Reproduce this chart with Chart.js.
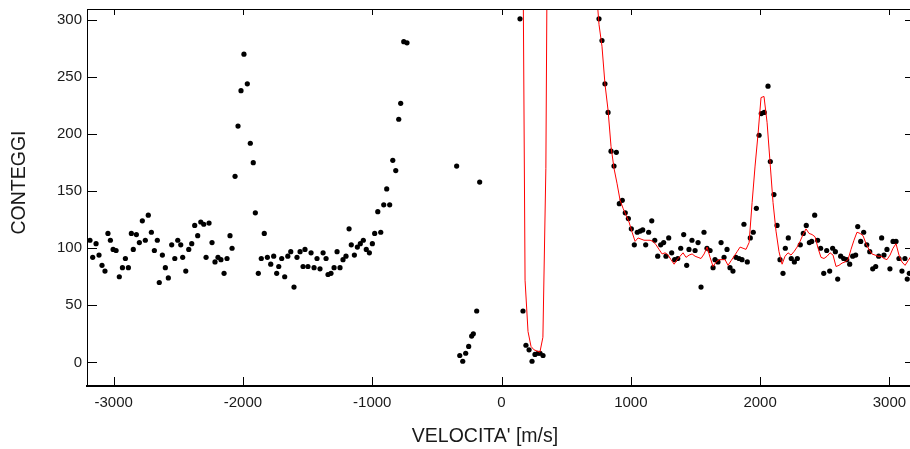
<!DOCTYPE html>
<html>
<head>
<meta charset="utf-8">
<title>Conteggi</title>
<script src="https://cdn.jsdelivr.net/npm/chart.js@4.4.0/dist/chart.umd.min.js"></script>
<style>
  html, body { margin: 0; padding: 0; background: #fff; overflow: hidden; }
  canvas { display: block; }
</style>
</head>
<body>
<canvas id="myChart" width="916" height="449"></canvas>
<script>
// measured points (black dots)
let velocita = [
  -3183, -3162, -3136, -3113, -3090, -3067, -3044, -3025, -3004, -2981,
  -2956, -2932, -2909, -2886, -2863, -2848, -2824, -2801, -2778, -2755,
  -2732, -2708, -2685, -2662, -2647, -2623, -2600, -2577, -2551, -2527,
  -2504, -2481, -2466, -2442, -2419, -2396, -2373, -2350, -2326, -2303,
  -2285, -2262, -2239, -2216, -2193, -2170, -2146, -2123, -2100, -2084,
  -2061, -2038, -2015, -1992, -1966, -1943, -1920, -1904, -1881, -1858,
  -1835, -1811, -1785, -1762, -1739, -1723, -1700, -1677, -1653, -1630,
  -1605, -1582, -1558, -1535, -1520, -1497, -1473, -1450, -1427, -1404,
  -1380, -1357, -1342, -1319, -1295, -1272, -1249, -1226, -1203, -1179,
  -1162, -1138, -1115, -1092, -1069, -1046, -1022, -999, -981, -957,
  -934, -911, -888, -865, -841, -818, -795, -780, -756, -731,
  -347, -323, -300, -277, -254, -231, -218, -192, -169,
  143, 166, 189, 213, 236, 259, 282, 298, 321,
  754, 777, 800, 824, 847, 870, 888, 911, 934, 957,
  981, 1004, 1027, 1050, 1073, 1092, 1115, 1138, 1162, 1185,
  1208, 1231, 1254, 1272, 1293, 1316, 1339, 1363, 1386, 1409,
  1432, 1450, 1473, 1497, 1520, 1543, 1566, 1589, 1613, 1636,
  1651, 1674, 1698, 1721, 1744, 1767, 1790, 1813, 1837, 1860,
  1875, 1901, 1924, 1947, 1971, 1992, 2009, 2032, 2061, 2079,
  2107, 2131, 2154, 2177, 2195, 2218, 2241, 2265, 2288, 2311,
  2334, 2357, 2381, 2399, 2422, 2445, 2468, 2492, 2515, 2538,
  2561, 2582, 2600, 2623, 2646, 2670, 2693, 2716, 2739, 2755,
  2778, 2801, 2825, 2848, 2871, 2894, 2917, 2940, 2958, 2981,
  3004, 3028, 3051, 3074, 3097, 3120, 3138, 3154
];
let conteggi = [
  107, 92, 104, 94, 85, 80, 113, 107, 99, 98,
  75, 83, 91, 83, 113, 99, 112, 105, 124, 107,
  129, 114, 98, 107, 70, 94, 83, 74, 103, 91,
  107, 103, 92, 80, 99, 104, 120, 111, 123, 121,
  92, 122, 105, 88, 92, 90, 78, 91, 111, 100,
  163, 207, 238, 270, 244, 192, 175, 131, 78, 91,
  113, 92, 86, 93, 78, 84, 91, 75, 93, 97,
  66, 92, 97, 84, 99, 84, 96, 83, 91, 82,
  96, 91, 77, 78, 83, 97, 83, 90, 93, 117,
  103, 94, 101, 104, 107, 99, 96, 104, 113, 132,
  114, 138, 152, 138, 177, 168, 213, 227, 281, 280,
  172, 6, 1, 8, 14, 23, 25, 45, 158,
  301, 45, 15, 11, 1, 7, 8, 8, 6,
  301, 282, 244, 219, 185, 172, 184, 139, 142, 131,
  126, 117, 103, 114, 115, 116, 103, 114, 124, 107,
  93, 103, 105, 93, 109, 96, 90, 91, 100, 112,
  85, 99, 107, 98, 105, 66, 114, 100, 98, 83,
  90, 88, 105, 92, 99, 83, 80, 92, 91, 90,
  121, 88, 109, 114, 135, 199, 218, 219, 242, 176,
  147, 120, 90, 78, 100, 109, 91, 88, 91, 103,
  113, 120, 105, 106, 129, 107, 100, 78, 98, 80,
  100, 97, 73, 93, 91, 90, 86, 93, 94, 119,
  106, 114, 103, 97, 82, 84, 93, 109, 94, 99,
  82, 106, 106, 91, 80, 91, 73, 78
];

// fitted curve (red line)
let fitVelocita = [
  159, 182, 205, 228, 251, 274, 297, 320, 343, 366,
  731, 754, 777, 800, 824, 847, 870, 893, 917, 940,
  963, 986, 1010, 1033, 1056, 1079, 1102, 1126, 1149, 1172,
  1195, 1218, 1242, 1265, 1288, 1311, 1335, 1358, 1381, 1404,
  1427, 1451, 1474, 1497, 1520, 1543, 1567, 1590, 1613, 1636,
  1660, 1683, 1706, 1729, 1752, 1775, 1799, 1822, 1845, 1868,
  1891, 1915, 1938, 1961, 1984, 2007, 2030, 2054, 2077, 2100,
  2123, 2146, 2170, 2193, 2216, 2239, 2262, 2286, 2309, 2332,
  2355, 2378, 2402, 2425, 2448, 2471, 2494, 2518, 2541, 2564,
  2587, 2610, 2634, 2657, 2680, 2703, 2726, 2749, 2773, 2796,
  2819, 2842, 2865, 2889, 2912, 2935, 2958, 2981, 3005, 3028,
  3051, 3074, 3097, 3121, 3144, 3167
];
let fitConteggi = [
  490, 72, 27, 14, 11, 10, 9, 22, 170, 600,
  330, 296, 277, 244, 221, 189, 170, 157, 142, 135,
  129, 123, 114, 106, 109, 108, 107, 107, 107, 106,
  103, 99, 95, 96, 94, 90, 86, 90, 93, 96,
  92, 94, 95, 93, 92, 91, 95, 101, 92, 84,
  88, 90, 90, 90, 85, 89, 93, 97, 101, 100,
  99, 105, 140, 172, 200, 232, 233, 210, 175, 140,
  115, 97, 86, 93, 96, 94, 97, 101, 106, 112,
  117, 113, 112, 110, 100, 92, 91, 93, 96, 94,
  84, 85, 87, 88, 90, 99, 107, 114, 113, 111,
  104, 99, 95, 94, 93, 93, 91, 90, 94, 100,
  104, 94, 88, 85, 89, 93
];

let xTicks = [-3000, -2000, -1000, 0, 1000, 2000, 3000];
let yTicks = [0, 50, 100, 150, 200, 250, 300];
const xTitle = "VELOCITA' [m/s]";
const yTitle = "CONTEGGI";

let punti = velocita.map((v, i) => ({ x: v, y: conteggi[i] }));
let fit = fitVelocita.map((v, i) => ({ x: v, y: fitConteggi[i] }));

Chart.defaults.font.family = "'Liberation Sans', Arial, sans-serif";
Chart.defaults.color = "#1a1a1a";

// frame on top/right, inward tick marks and axis titles
const frame = {
  id: "frame",
  afterDraw(chart) {
    const { ctx, chartArea: a, scales } = chart;
    ctx.save();
    ctx.strokeStyle = "#000";
    ctx.lineWidth = 1;
    ctx.beginPath();
    ctx.moveTo(a.left, a.top + 0.5);
    ctx.lineTo(a.right, a.top + 0.5);
    ctx.moveTo(a.right - 0.5, a.top);
    ctx.lineTo(a.right - 0.5, a.bottom);
    xTicks.forEach((v) => {
      const px = Math.round(scales.x.getPixelForValue(v)) + 0.5;
      ctx.moveTo(px, a.bottom);
      ctx.lineTo(px, a.bottom - 9);
      ctx.moveTo(px, a.top);
      ctx.lineTo(px, a.top + 6);
    });
    yTicks.forEach((v) => {
      const py = Math.round(scales.y.getPixelForValue(v)) + 0.5;
      ctx.moveTo(a.left, py);
      ctx.lineTo(a.left + 10, py);
      ctx.moveTo(a.right, py);
      ctx.lineTo(a.right - 6, py);
    });
    ctx.stroke();

    ctx.fillStyle = "#1a1a1a";
    ctx.font = "19.5px 'Liberation Sans', Arial, sans-serif";
    ctx.textAlign = "center";
    ctx.textBaseline = "middle";
    ctx.fillText(xTitle, 485, 437);
    ctx.translate(20, 182.5);
    ctx.rotate(-Math.PI / 2);
    ctx.fillText(yTitle, 0, 0);
    ctx.restore();
  },
};

var ctx = document.getElementById("myChart").getContext("2d");
var myChart = new Chart(ctx, {
  type: "scatter",
  data: {
    datasets: [
      {
        label: "fit",
        type: "line",
        data: fit,
        borderColor: "#ff0000",
        borderWidth: 1,
        pointRadius: 0,
        tension: 0,
        fill: false,
        order: 0,
      },
      {
        label: "conteggi",
        data: punti,
        backgroundColor: "#000",
        borderWidth: 0,
        pointRadius: 2.6,
        order: 1,
      },
    ],
  },
  options: {
    responsive: false,
    animation: false,
    layout: { padding: { top: 9, right: 5, left: 0, bottom: 0 } },
    plugins: { legend: { display: false }, tooltip: { enabled: false } },
    scales: {
      x: {
        type: "linear",
        min: -3206,
        max: 3167,
        afterBuildTicks: (s) => { s.ticks = xTicks.map((v) => ({ value: v })); },
        afterFit: (s) => {
          s.height = 63;
          s.paddingLeft = 0;
          s.paddingRight = 0;
        },
        grid: { display: true, drawOnChartArea: false, drawTicks: false },
        border: { display: true, color: "#000", width: 2 },
        ticks: {
          font: { size: 15 },
          padding: 8,
          maxRotation: 0,
          autoSkip: false,
          callback: (v) => String(v),
        },
      },
      y: {
        min: -20.7,
        max: 309.6,
        afterBuildTicks: (s) => { s.ticks = yTicks.map((v) => ({ value: v })); },
        afterFit: (s) => {
          s.width = 87;
          s.paddingTop = 0;
          s.paddingBottom = 0;
        },
        grid: { display: true, drawOnChartArea: false, drawTicks: false },
        border: { display: true, color: "#000", width: 1 },
        ticks: {
          font: { size: 15 },
          padding: 5,
          callback: (v) => String(v),
        },
      },
    },
  },
  plugins: [frame],
});
</script>
</body>
</html>
